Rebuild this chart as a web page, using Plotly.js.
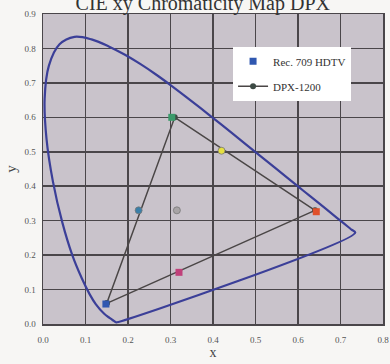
<!DOCTYPE html>
<html><head><meta charset="utf-8">
<script src="https://cdn.plot.ly/plotly-3.0.1.min.js"></script>
<style>html,body{margin:0;padding:0;background:#f7f6f4;}#chart{width:390px;height:364px;}</style>
</head><body><div id="chart"></div>
<script>
// CIE 1931 spectral locus (x, y)
const locusX = [0.1741,0.1714,0.1644,0.1566,0.1440,0.1241,0.1096,0.0913,0.0687,0.0454,0.0235,0.0082,0.0039,0.0139,0.0389,0.0743,0.1142,0.1547,0.1929,0.2296,0.2658,0.3016,0.3373,0.3731,0.4087,0.4441,0.4788,0.5125,0.5448,0.5752,0.6029,0.6270,0.6658,0.6915,0.7079,0.7190,0.7260,0.7347,0.1741];
const locusY = [0.0050,0.0051,0.0109,0.0177,0.0297,0.0578,0.0868,0.1327,0.2007,0.2950,0.4127,0.5384,0.6548,0.7502,0.8120,0.8338,0.8262,0.8059,0.7816,0.7543,0.7243,0.6923,0.6589,0.6245,0.5896,0.5547,0.5202,0.4866,0.4544,0.4242,0.3965,0.3725,0.3340,0.3083,0.2920,0.2809,0.2740,0.2653,0.0050];
// DPX-1200 gamut triangle
const dpxX = [0.15,0.31,0.64,0.15];
const dpxY = [0.06,0.60,0.33,0.06];
// Rec. 709 HDTV points
const recX = [0.148,0.303,0.643,0.32];
const recY = [0.058,0.60,0.326,0.15];
const recColors = ['#2f57b0','#3a9a6a','#e0502a','#c0407a'];
// secondary / white points
const secX = [0.42,0.225,0.315];
const secY = [0.503,0.33,0.33];
const secColors = ['#e6e040','#3a7fa8','#a8a4a6'];
const ticks = [0,0.1,0.2,0.3,0.4,0.5,0.6,0.7,0.8,0.9];

const serif = 'Liberation Serif, DejaVu Serif, serif';
const traces = [
  {x: locusX, y: locusY, mode: 'lines', line: {color: '#3b3f98', width: 2.2, shape: 'spline', smoothing: 1}, showlegend: false, hoverinfo: 'skip'},
  {x: dpxX, y: dpxY, mode: 'lines+markers', name: 'DPX-1200', legendgroup: 'b', legendrank: 2, line: {color: '#4a4646', width: 1.5}, marker: {color: '#3d4a44', size: 6, symbol: 'circle'}},
  {x: recX, y: recY, mode: 'markers', name: 'Rec. 709 HDTV', legendgroup: 'a', legendrank: 1, marker: {color: recColors, size: 7, symbol: 'square'}},
  {x: secX, y: secY, mode: 'markers', showlegend: false, marker: {color: secColors, size: 7, symbol: 'circle', line: {color: '#777', width: 0.8}}}
];
const axisCommon = {
  tickvals: ticks, tickformat: '.1f', showgrid: true, gridcolor: '#4a464a', gridwidth: 1.5,
  zeroline: false, showline: true, linecolor: '#4a464a', linewidth: 1.5, mirror: true,
  tickfont: {family: serif, size: 9, color: '#555'}, ticks: 'outside', tickcolor: 'rgba(0,0,0,0)'
};
const layout = {
  width: 390, height: 364,
  margin: {l: 43, r: 7, t: 14, b: 40},
  paper_bgcolor: '#f7f6f4', plot_bgcolor: '#c9c3cb',
  title: {text: 'CIE xy Chromaticity Map DPX', font: {family: serif, size: 20, color: '#333'}, x: 0.52, xanchor: 'center', yref: 'container', y: 0.972, yanchor: 'bottom'},
  xaxis: Object.assign({}, axisCommon, {range: [0, 0.8], ticklen: 7, title: {text: 'x', font: {family: serif, size: 14, color: '#444'}, standoff: 3}}),
  yaxis: Object.assign({}, axisCommon, {range: [0, 0.9], ticklen: 4, title: {text: 'y', font: {family: serif, size: 15, color: '#444'}, standoff: 4}}),
  legend: {x: 0.559, y: 0.894, xanchor: 'left', yanchor: 'top', bgcolor: '#ffffff', borderwidth: 0, font: {family: serif, size: 11, color: '#333'}, traceorder: 'grouped', tracegroupgap: 6},
  showlegend: true
};
Plotly.newPlot('chart', traces, layout, {displayModeBar: false, staticPlot: true});
</script></body></html>
